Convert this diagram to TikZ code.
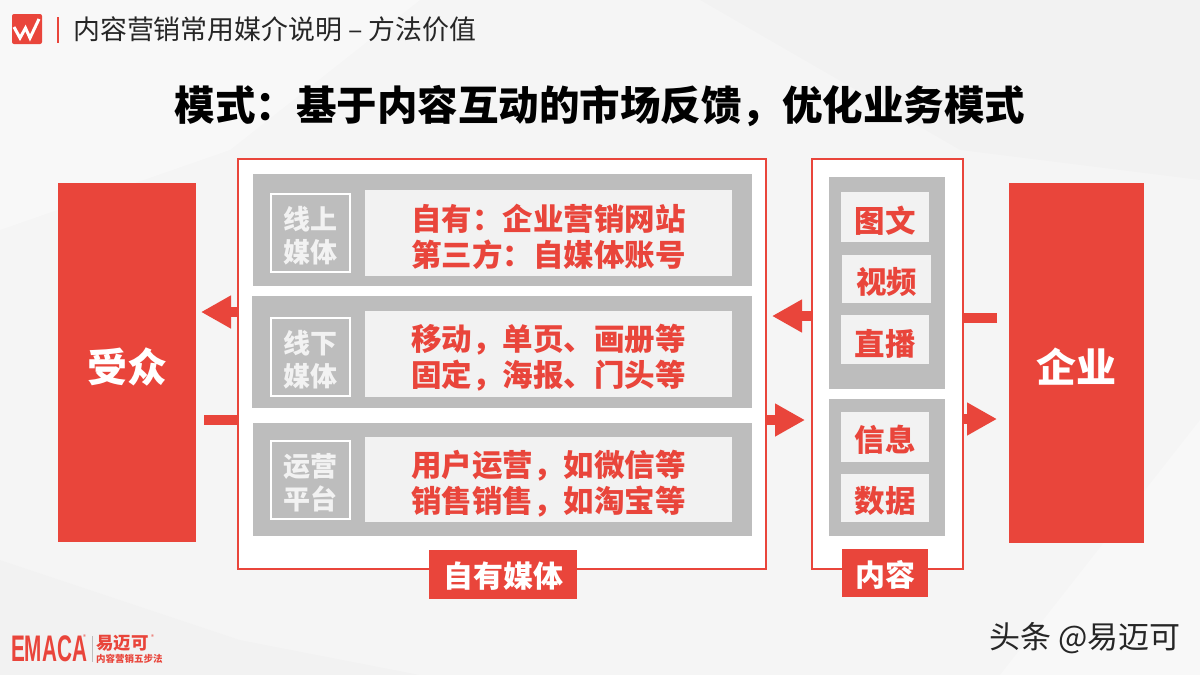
\documentclass[tikz,border=0pt]{standalone}
\usepackage{fontspec}
\setmainfont{Noto Sans CJK SC}
\newfontfamily\latinbold{Liberation Sans}[BoldFont={Liberation Sans Bold}]
\usetikzlibrary{arrows.meta}
\definecolor{brandred}{HTML}{E9453B}
\definecolor{panelgray}{HTML}{BDBDBD}
\definecolor{lightbox}{HTML}{F2F2F2}
\definecolor{pagebg}{HTML}{F5F5F5}
\definecolor{inkdark}{HTML}{262626}
\tikzset{
  x=1pt,y=-1pt,
  box/.style={inner sep=0pt,outer sep=0pt,anchor=north west},
  frame/.style={box,draw=brandred,line width=1.3pt,fill=white},
  panel/.style={box,fill=panelgray},
  inner/.style={box,fill=lightbox},
  tagbox/.style={box,draw=white,line width=1.1pt},
  solidbox/.style={box,fill=brandred},
  lbl/.style={inner sep=0pt,align=center},
  redtxt/.style={lbl,text=brandred,font=\fontsize{30.5pt}{36pt}\selectfont\bfseries},
  tagtxt/.style={lbl,text=lightbox,font=\fontsize{27pt}{33pt}\selectfont\bfseries},
  bigtxt/.style={lbl,text=white,font=\fontsize{40pt}{44pt}\selectfont\bfseries},
  captxt/.style={lbl,text=white,font=\fontsize{30pt}{36pt}\selectfont\bfseries},
  blockarrow/.style={draw=brandred,line width=9.5pt,-{Triangle[length=30pt,width=31pt,fill=brandred]}},
  stub/.style={draw=brandred,line width=10pt},
}
% {name}{x0}{y0}{x1}{y1}{box style}
\newcommand{\bx}[6]{\node[#6,minimum width=#4pt-#2pt,minimum height=#5pt-#3pt] (#1) at (#2,#3) {};}
% {name}{over node}{drop}{style}{text}
\newcommand{\tx}[5]{\node[#4,yshift=-#3pt] (#1) at (#2.center) {#5};}
\begin{document}
\begin{tikzpicture}
\useasboundingbox (0,0) rectangle (1200,675);
\fill[pagebg] (0,0) rectangle (1200,675);
% faint background facets
\fill[white,opacity=.3] (0,0) -- (420,0) -- (230,150) -- (0,230) -- cycle;
\fill[white,opacity=.3] (1000,675) -- (1200,420) -- (1200,675) -- cycle;
\fill[black,opacity=.012] (700,0) -- (1200,0) -- (1200,180) -- (960,150) -- cycle;
\fill[black,opacity=.012] (0,560) -- (240,640) -- (420,675) -- (0,675) -- cycle;

% header
\fill[brandred,rounded corners=2pt] (12,14) rectangle (42,44);
\draw[white,line width=3pt,line join=miter] (14,27) -- (20,38) -- (25.5,28) -- (30,38) -- (39,19);
\fill[brandred] (56.5,17) rectangle (58.5,43);
\node[anchor=west,inner sep=0pt,text=inkdark,font=\fontsize{26.9}{30}\selectfont] (header) at (73,29) {内容营销常用媒介说明 – 方法价值};
\node[anchor=center,inner sep=0pt,text=black,font=\fontsize{40.5}{44}\selectfont\bfseries] (title) at (600,106) {模式：基于内容互动的市场反馈，优化业务模式};

% audience and enterprise
\bx{aud}{58}{183}{196}{542}{solidbox}
\bx{ent}{1009}{183}{1144}{543}{solidbox}
\tx{audt}{aud}{4}{bigtxt}{受众}
\tx{entt}{ent}{4}{bigtxt}{企业}

% frames
\bx{mediaframe}{238}{159}{766}{569}{frame}
\bx{contentframe}{812}{159}{963}{569}{frame}

% media rows
\bx{rowa}{253}{174}{752}{286}{panel}
\bx{rowb}{252}{296}{752}{408}{panel}
\bx{rowc}{253}{423}{752}{536}{panel}
\bx{taga}{271}{194}{350}{272}{tagbox}
\bx{tagb}{271}{318}{350}{396}{tagbox}
\bx{tagc}{271}{441}{350}{519}{tagbox}
\tx{tagat}{taga}{3}{tagtxt}{线上\\媒体}
\tx{tagbt}{tagb}{3}{tagtxt}{线下\\媒体}
\tx{tagct}{tagc}{3}{tagtxt}{运营\\平台}
\bx{texta}{365}{190}{732}{276}{inner}
\bx{textb}{365}{311}{732}{397}{inner}
\bx{textc}{365}{437}{732}{522}{inner}
\tx{textat}{texta}{4}{redtxt}{自有：企业营销网站\\第三方：自媒体账号}
\tx{textbt}{textb}{4}{redtxt}{移动，单页、画册等\\固定，海报、门头等}
\tx{textct}{textc}{4}{redtxt}{用户运营，如微信等\\销售销售，如淘宝等}

% content column
\bx{colup}{829}{177}{945}{389}{panel}
\bx{collow}{829}{399}{945}{536}{panel}
\bx{pic}{841}{192}{929}{242}{inner}
\bx{vid}{842}{255}{931}{303}{inner}
\bx{live}{841}{315}{929}{364}{inner}
\bx{info}{841}{412}{929}{462}{inner}
\bx{data}{841}{474}{929}{522}{inner}
\tx{pict}{pic}{4}{redtxt}{图文}
\tx{vidt}{vid}{3}{redtxt}{视频}
\tx{livet}{live}{4}{redtxt}{直播}
\tx{infot}{info}{3}{redtxt}{信息}
\tx{datat}{data}{3}{redtxt}{数据}

% captions
\bx{capm}{429}{550}{577}{599}{solidbox}
\bx{capc}{842}{549}{928}{597}{solidbox}
\tx{capmt}{capm}{2}{captxt}{自有媒体}
\tx{capct}{capc}{2}{captxt}{内容}

% connectors
\coordinate (a1) at (201,312);
\coordinate (a2) at (204,420);
\coordinate (a3) at (805,420);
\coordinate (a4) at (772,316);
\coordinate (a5) at (997,318);
\coordinate (a6) at (997,419);
\draw[blockarrow] (mediaframe.west |- a1) -- (a1);
\draw[stub] (a2) -- (mediaframe.west |- a2);
\draw[blockarrow] (mediaframe.east |- a3) -- (a3);
\draw[blockarrow] (contentframe.west |- a4) -- (a4);
\draw[stub] (a5) -- (contentframe.east |- a5);
\draw[blockarrow] (contentframe.east |- a6) -- (a6);

% footer
\node[anchor=west,inner sep=0pt,text=brandred,font=\latinbold\fontsize{37}{40}\selectfont\bfseries,xscale=.56] (emaca) at (11,649) {EMACA};
\node[anchor=west,inner sep=0pt,text=brandred,font=\fontsize{6}{7}\selectfont] (regone) at (83,637) {®};
\node[anchor=west,inner sep=0pt,text=brandred,font=\fontsize{17.5}{20}\selectfont\bfseries] (yimaike) at (96,643) {易迈可};
\node[anchor=west,inner sep=0pt,text=brandred,font=\fontsize{6}{7}\selectfont] (regtwo) at (151,637) {®};
\node[anchor=west,inner sep=0pt,text=brandred,font=\fontsize{9.5}{10}\selectfont\bfseries] (slogan) at (96,659) {内容营销五步法};
\fill[panelgray] (91.5,636) rectangle (92,662);
\node[anchor=east,inner sep=0pt,text=inkdark,font=\fontsize{31}{34}\selectfont] (mark) at (1181,638) {头条 @易迈可};
\end{tikzpicture}
\end{document}
